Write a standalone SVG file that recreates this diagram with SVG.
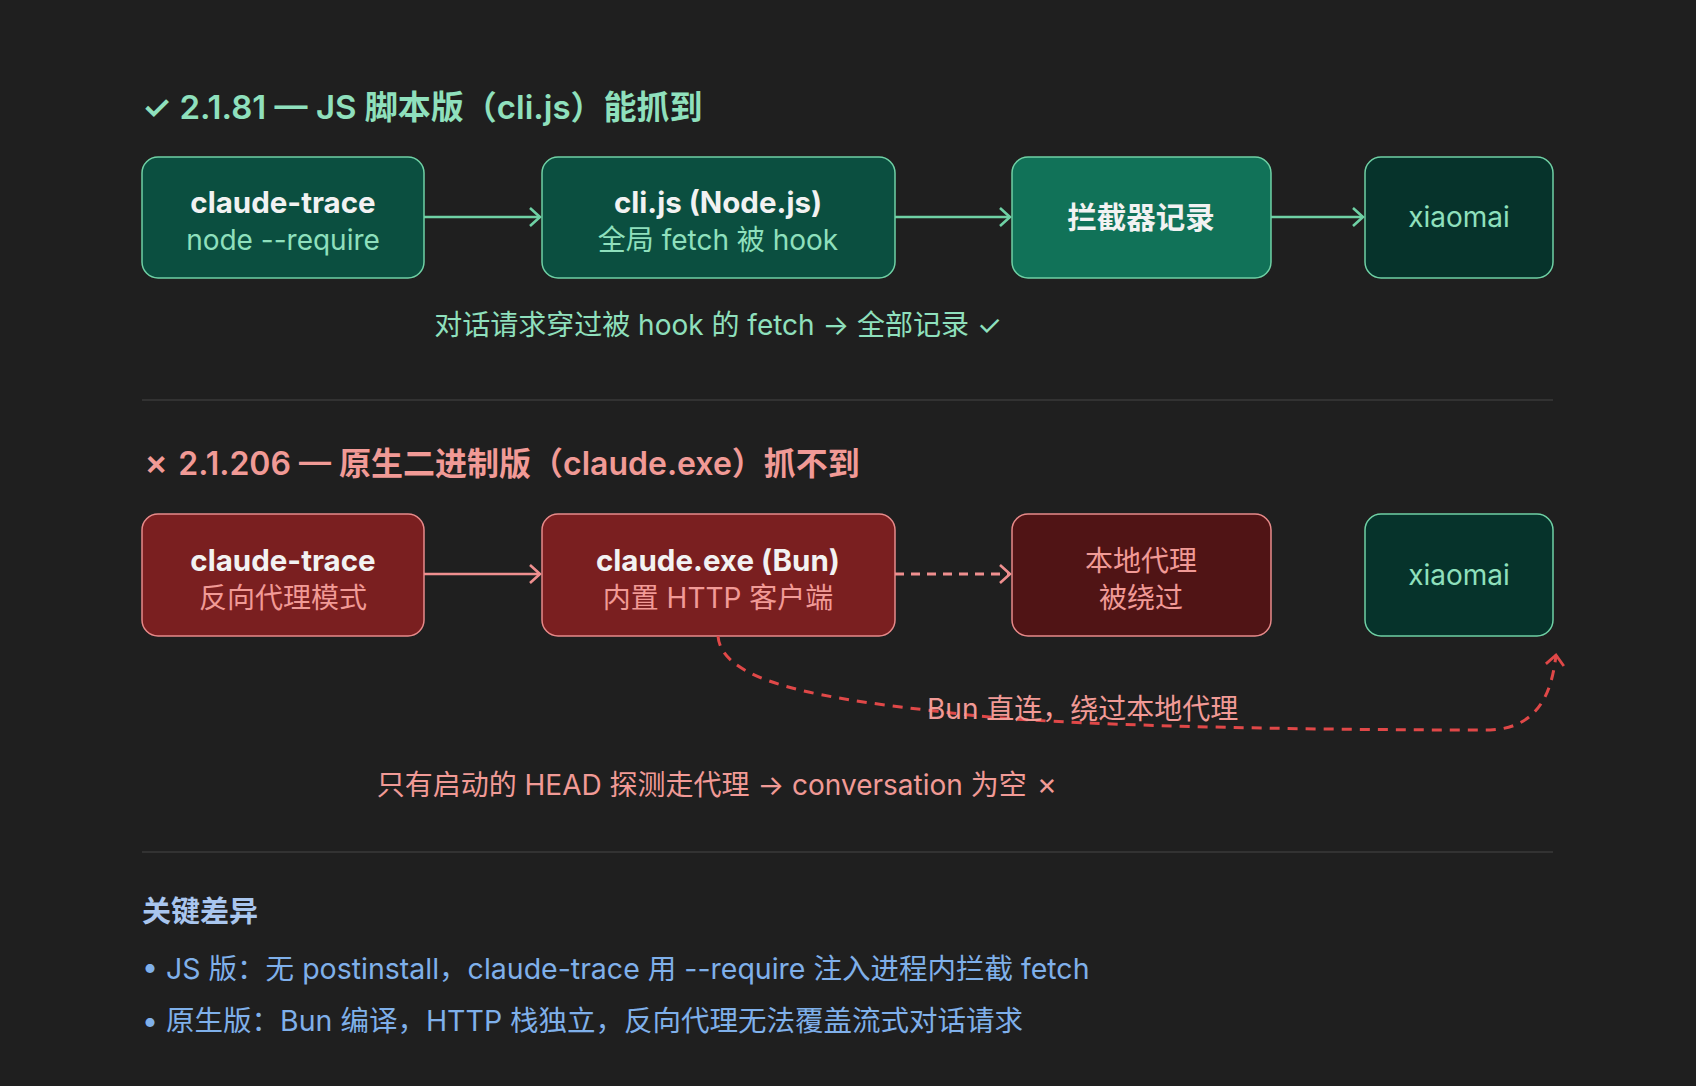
<svg xmlns="http://www.w3.org/2000/svg" width="1696" height="1086" viewBox="0 0 1696 1086">
<defs>
<style>
text{font-family:"Inter","Noto Sans CJK SC",sans-serif}
.g{fill:#0b4f40;stroke:#6fd1a5;stroke-width:1.5}
.r{fill:#7a1f20;stroke:#e88a8a;stroke-width:1.5}
.b{font-weight:700;font-size:29.5px;fill:#f2f2f2;text-anchor:middle}
.sg{font-size:28px;fill:#8fe0bd;text-anchor:middle}
.sr{font-size:28px;fill:#f19a96;text-anchor:middle}
.bl{font-size:28.5px;fill:#7fb0ea}
</style>
<marker id="ag" viewBox="0 0 24 24" refX="21" refY="12" markerWidth="24" markerHeight="24" markerUnits="userSpaceOnUse" orient="auto"><path d="M11,3 L21,12 L11,21" fill="none" stroke="#6fd1a5" stroke-width="2.6"/></marker>
<marker id="ar" viewBox="0 0 24 24" refX="21" refY="12" markerWidth="24" markerHeight="24" markerUnits="userSpaceOnUse" orient="auto"><path d="M11,3 L21,12 L11,21" fill="none" stroke="#ef8f8f" stroke-width="2.6"/></marker>
<marker id="ad" viewBox="0 0 24 24" refX="21" refY="12" markerWidth="24" markerHeight="24" markerUnits="userSpaceOnUse" orient="auto"><path d="M11,3 L21,12 L11,21" fill="none" stroke="#e04848" stroke-width="2.8"/></marker>
</defs>
<rect width="1696" height="1086" fill="#1f1f1f"/>
<text x="142" y="119" font-size="33" font-weight="600" fill="#8fe0bd">✓ 2.1.81 — JS 脚本版（cli.js）能抓到</text>
<g id="n1"><rect class="g" x="142" y="157" width="282" height="121" rx="16"/><text class="b" x="283" y="213">claude-trace</text><text class="sg" x="283" y="250">node --require</text></g>
<g id="n2"><rect class="g" x="542" y="157" width="353" height="121" rx="16"/><text class="b" x="718" y="213">cli.js (Node.js)</text><text class="sg" x="718" y="250">全局 fetch 被 hook</text></g>
<g id="n3"><rect class="g" x="1012" y="157" width="259" height="121" rx="16" style="fill:#117258"/><text class="b" x="1141" y="228">拦截器记录</text></g>
<g id="n4"><rect class="g" x="1365" y="157" width="188" height="121" rx="16" style="fill:#06332b"/><text class="sg" x="1459" y="227" font-size="30">xiaomai</text></g>
<text class="sg" x="718" y="335">对话请求穿过被 hook 的 fetch → 全部记录 ✓</text>
<line x1="142" y1="400" x2="1553" y2="400" stroke="#3a3a3a" stroke-width="1.5"/>
<text x="142" y="475" font-size="32" font-weight="600" fill="#f19a96">✗ 2.1.206 — 原生二进制版（claude.exe）抓不到</text>
<g id="m1"><rect class="r" x="142" y="514" width="282" height="122" rx="16"/><text class="b" x="283" y="571">claude-trace</text><text class="sr" x="283" y="608">反向代理模式</text></g>
<g id="m2"><rect class="r" x="542" y="514" width="353" height="122" rx="16"/><text class="b" x="718" y="571">claude.exe (Bun)</text><text class="sr" x="718" y="608">内置 HTTP 客户端</text></g>
<g id="m3"><rect class="r" x="1012" y="514" width="259" height="122" rx="16" style="fill:#501415"/><text class="sr" x="1141" y="571">本地代理</text><text class="sr" x="1141" y="608">被绕过</text></g>
<g id="m4"><rect class="g" x="1365" y="514" width="188" height="122" rx="16" style="fill:#06332b"/><text class="sg" x="1459" y="585" font-size="30">xiaomai</text></g>
<g id="connectors" fill="none">
<line x1="424" y1="217" x2="540" y2="217" stroke="#6fd1a5" stroke-width="2.5" marker-end="url(#ag)"/>
<line x1="895" y1="217" x2="1010" y2="217" stroke="#6fd1a5" stroke-width="2.5" marker-end="url(#ag)"/>
<line x1="1271" y1="217" x2="1363" y2="217" stroke="#6fd1a5" stroke-width="2.5" marker-end="url(#ag)"/>
<line x1="424" y1="574" x2="540" y2="574" stroke="#ef8f8f" stroke-width="2.5" marker-end="url(#ar)"/>
<line x1="895" y1="574" x2="1010" y2="574" stroke="#ef8f8f" stroke-width="2.8" stroke-dasharray="9,7" marker-end="url(#ar)"/>
<path d="M718,636 C722,690 860,702 960,714 C1060,726 1300,730 1490,730 C1540,728 1552,690 1556,655" stroke="#e04848" stroke-width="3" stroke-dasharray="10,8" marker-end="url(#ad)"/>
</g>
<text x="927" y="719" font-size="28" fill="#f19a96">Bun 直连，绕过本地代理</text>
<text class="sr" x="718" y="795">只有启动的 HEAD 探测走代理 → conversation 为空 ✗</text>
<line x1="142" y1="852" x2="1553" y2="852" stroke="#3a3a3a" stroke-width="1.5"/>
<text x="142" y="922" font-size="29" font-weight="700" fill="#a9c6ee">关键差异</text>
<text class="bl" x="142" y="979">• JS 版：无 postinstall，claude-trace 用 --require 注入进程内拦截 fetch</text>
<text class="bl" x="142" y="1031">• 原生版：Bun 编译，HTTP 栈独立，反向代理无法覆盖流式对话请求</text>
</svg>
